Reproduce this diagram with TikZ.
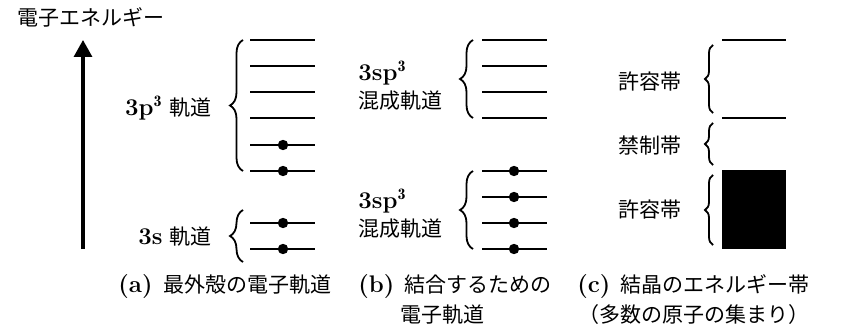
\documentclass[tikz,border=0pt]{standalone}
\usepackage{fontspec}
\newfontfamily\jp{Noto Sans CJK JP}
\usetikzlibrary{arrows.meta,decorations.pathreplacing}
\newcommand{\lat}[1]{{\fontsize{12}{14}\selectfont\bfseries #1}}

\begin{document}
\begin{tikzpicture}[x=0.5pt,y=-0.5pt]
    \tikzset{LevelStyle/.style = {line width=1.1pt},
        DotStyle/.style = {circle, fill=black, inner sep=0pt, minimum size=5.2pt},
        BraceStyle/.style = {decorate, decoration={brace,amplitude=#1}, line width=0.9pt},
        BraceStyle/.default = 6.5pt,
        TextStyle/.style = {font=\fontsize{10.5}{14}\selectfont, inner sep=0pt}}
    \useasboundingbox (0,0) rectangle (845,336);
    % energy axis
    \node[TextStyle, anchor=west] (elabel) at (17,17) {\jp 電子エネルギー};
    \coordinate (ebot) at (83,249);
    \coordinate (etop) at (83,40);
    \draw[line width=1.6pt, -{Triangle[width=9pt,length=8.5pt]}] (ebot) -- (etop);
    % (a)
    \foreach \y in {40,66,92,118,145,171,223,249}
        \draw[LevelStyle] (250,\y) -- (315,\y);
    \foreach \y in {145,171,223,249}
        \node[DotStyle] at (283,\y) {};
    \draw[BraceStyle] (243,171) -- (243,40);
    \draw[BraceStyle] (243,262) -- (243,210);
    \node[TextStyle, anchor=east] (l3p) at (212,108) {\lat{3p$^{\mathbf{3}}$} {\jp 軌道}};
    \node[TextStyle, anchor=east] (l3s) at (212,237) {\lat{3s} {\jp 軌道}};
    \node[TextStyle, anchor=west] (capa) at (118,287) {\lat{(a)}\, {\jp 最外殻の電子軌道}};
    % (b)
    \foreach \y in {40,66,92,118,171,197,223,249}
        \draw[LevelStyle] (482,\y) -- (547,\y);
    \foreach \y in {171,197,223,249}
        \node[DotStyle] at (514,\y) {};
    \draw[BraceStyle] (473,118) -- (473,40);
    \draw[BraceStyle] (473,249) -- (473,171);
    \node[TextStyle, anchor=west, align=left] (lsp1) at (358,86) {\lat{3sp$^{\mathbf{3}}$}\\{\jp 混成軌道}};
    \node[TextStyle, anchor=west, align=left] (lsp2) at (358,214) {\lat{3sp$^{\mathbf{3}}$}\\{\jp 混成軌道}};
    \node[TextStyle, anchor=west] (capb) at (358,287) {\lat{(b)}\, {\jp 結合するための}};
    \node[TextStyle, anchor=west] (capb2) at (400,315) {\jp 電子軌道};
    % (c)
    \draw[LevelStyle] (722,40) -- (786,40);
    \draw[LevelStyle] (722,118) -- (786,118);
    \fill (722,170) rectangle (786,249);
    \draw[BraceStyle=4pt] (713,113) -- (713,45);
    \draw[BraceStyle=4pt] (713,165) -- (713,123);
    \draw[BraceStyle=4pt] (713,245) -- (713,175);
    \node[TextStyle, anchor=east] (lal1) at (682,82) {\jp 許容帯};
    \node[TextStyle, anchor=east] (lforb) at (682,146) {\jp 禁制帯};
    \node[TextStyle, anchor=east] (lal2) at (682,210) {\jp 許容帯};
    \node[TextStyle, anchor=west] (capc) at (577,287) {\lat{(c)}\, {\jp 結晶のエネルギー帯}};
    \node[TextStyle, anchor=east] (capc2) at (810,315) {\jp （多数の原子の集まり）};
\end{tikzpicture}
\end{document}
